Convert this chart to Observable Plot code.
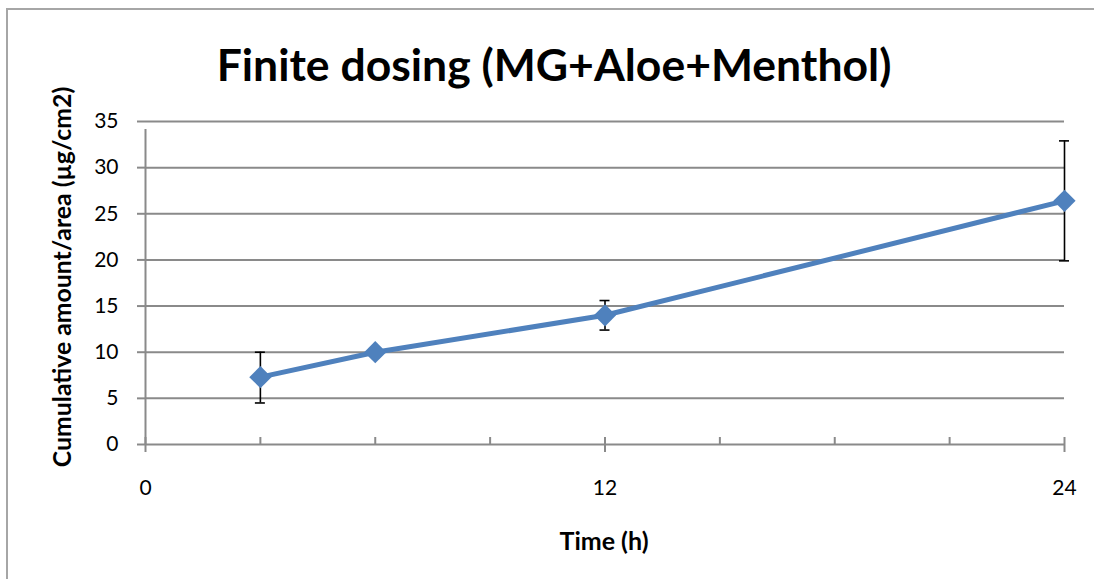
<!DOCTYPE html>
<html>
<head>
<meta charset="utf-8">
<script src="https://cdn.jsdelivr.net/npm/d3@7"></script>
<script src="https://cdn.jsdelivr.net/npm/@observablehq/plot@0.6"></script>
<style>
  html, body { margin: 0; padding: 0; background: #fff; }
  #wrap { position: relative; width: 1094px; height: 579px; overflow: hidden; font-family: Lato, "Open Sans", sans-serif; }
  #border { position: absolute; left: 6px; top: 8px; width: 1200px; height: 700px; border-top: 2px solid #a6a6a6; border-left: 2px solid #a6a6a6; }
  #chart { position: absolute; left: 0; top: 0; }
  #title { position: absolute; left: 554px; top: 63px; transform: translate(-50%, -50%); font-weight: bold; font-size: 44.5px; color: #000; white-space: nowrap; }
  #ylabel { position: absolute; left: 61px; top: 277px; transform: translate(-50%, -50%) rotate(-90deg); font-weight: bold; font-size: 24.8px; white-space: nowrap; color: #000; }
  #xlabel { position: absolute; left: 604px; top: 540px; transform: translate(-50%, -50%); font-weight: bold; font-size: 25px; white-space: nowrap; color: #000; }
</style>
</head>
<body>
<div id="wrap">
  <div id="border"></div>
  <div id="chart"></div>
  <div id="title">Finite dosing (MG+Aloe+Menthol)</div>
  <div id="ylabel">Cumulative amount/area (µg/cm2)</div>
  <div id="xlabel">Time (h)</div>
</div>
<script>
// Data
const times = [3, 6, 12, 24];
const values = [7.3, 10.0, 14.0, 26.4];
const errLow = [4.5, null, 12.4, 19.9];
const errHigh = [10.0, null, 15.6, 32.9];
const yTicks = [0, 5, 10, 15, 20, 25, 30, 35];
const xLabelTicks = [0, 12, 24];
const xMajorTicks = [0, 12, 24];
const xMinorTicks = [3, 6, 9, 15, 18, 21];

const pts = times.map((t, i) => ({t, v: values[i], lo: errLow[i], hi: errHigh[i]}));
const errs = pts.filter(d => d.lo != null);

const gridColor = "#8a8a8a";
const blue = "#4f81bd";

const plot = Plot.plot({
  width: 1094,
  height: 579,
  marginLeft: 145,
  marginRight: 30,
  marginTop: 121,
  marginBottom: 135,
  style: {fontFamily: "Lato, 'Open Sans', sans-serif", background: "transparent", overflow: "visible"},
  x: {domain: [0, 24]},
  y: {domain: [0, 35]},
  marks: [
    Plot.gridY(yTicks, {stroke: gridColor, strokeOpacity: 1, strokeWidth: 2}),
    Plot.axisY(yTicks, {tickSize: 8, tickPadding: 19, stroke: gridColor, strokeWidth: 2, fontSize: 21, fill: "#000", label: null}),
    Plot.ruleX([0], {y1: 0, y2: 35, insetBottom: -8, stroke: gridColor, strokeWidth: 2}),
    Plot.ruleX(xMinorTicks, {x: d => d, y1: 0, y2: 0, insetTop: -7, stroke: gridColor, strokeWidth: 2}),
    Plot.ruleX(xMajorTicks, {x: d => d, y1: 0, y2: 0, insetTop: -7, insetBottom: -8, stroke: gridColor, strokeWidth: 2}),
    Plot.axisX(xLabelTicks, {tickSize: 0, tickPadding: 36, fontSize: 21, fill: "#000", label: null}),
    Plot.ruleX(errs, {x: "t", y1: "lo", y2: "hi", stroke: "#000", strokeWidth: 1.6}),
    Plot.ruleY(errs, {y: "lo", x1: "t", x2: "t", insetLeft: -5, insetRight: -5, stroke: "#000", strokeWidth: 1.6}),
    Plot.ruleY(errs, {y: "hi", x1: "t", x2: "t", insetLeft: -5, insetRight: -5, stroke: "#000", strokeWidth: 1.6}),
    Plot.line(pts, {x: "t", y: "v", stroke: blue, strokeWidth: 5}),
    Plot.dot(pts, {x: "t", y: "v", symbol: "diamond2", r: 10, fill: blue, stroke: null})
  ]
});
document.getElementById("chart").appendChild(plot);
</script>
</body>
</html>
